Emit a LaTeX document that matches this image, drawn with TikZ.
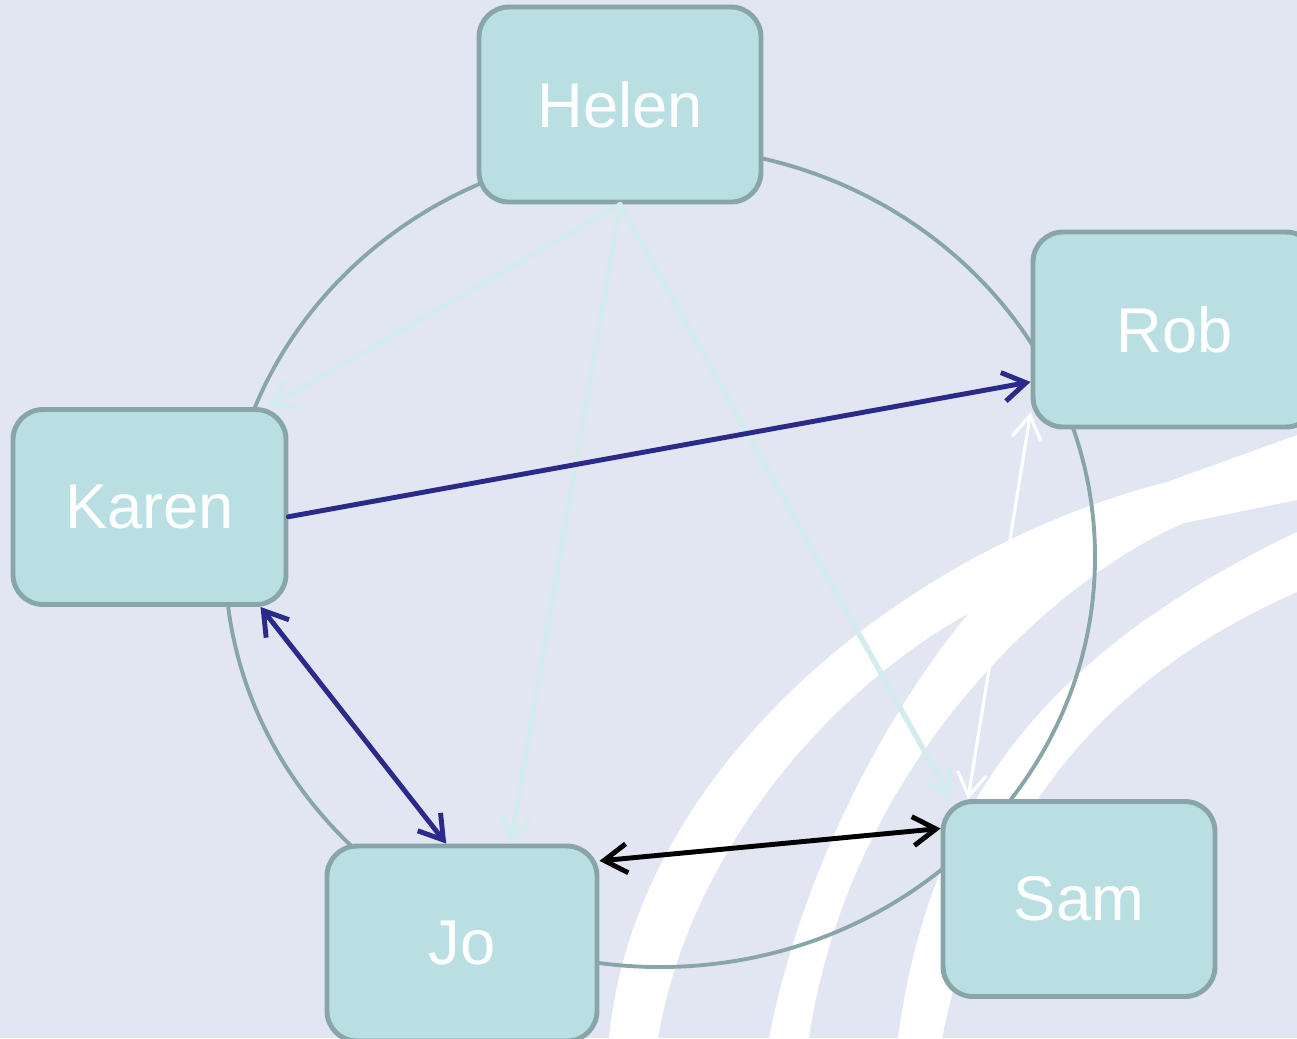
\documentclass[tikz,border=0pt]{standalone}
\usepackage{fontspec}
\setmainfont{Liberation Sans}
\usepackage{tikz}
\usetikzlibrary{arrows.meta,shapes.geometric}
\definecolor{cycbg}{HTML}{E1E6F2}
\definecolor{cycfill}{HTML}{B9DFE2}
\definecolor{cycedge}{HTML}{88A6A9}
\definecolor{cycnavy}{HTML}{2B2A8A}
\definecolor{cycpale}{HTML}{D3ECEE}
\tikzset{
  box/.style={draw=cycedge,fill=cycfill,rounded corners=3mm,line width=1.4pt,
              minimum height=1.95cm,inner sep=0pt,text=white,
              font=\fontsize{18}{22}\selectfont},
  ring/.style={draw=cycedge,line width=1.1pt},
  band/.style={fill=white},
  ar/.style={-{Straight Barb[length=2.3mm,width=2.9mm]},line cap=round,line join=round},
  dar/.style={{Straight Barb[length=2.3mm,width=2.9mm]}-{Straight Barb[length=2.3mm,width=2.9mm]},
              line cap=round,line join=round},
}
\begin{document}
\begin{tikzpicture}
  \useasboundingbox (0,0) rectangle (12.97,-10.38);
  \clip (0,0) rectangle (12.97,-10.38);
  \fill[cycbg] (0,0) rectangle (12.97,-10.38);
  % background swooshes
  \fill[band] (6.09,-10.38) .. controls (6.35,-7.70) and (9.00,-5.50) .. (11.67,-4.82)
    -- (12.97,-4.35) -- (12.97,-5.00) -- (11.84,-5.23)
    .. controls (10.60,-5.75) and (8.50,-7.60) .. (8.09,-10.38) -- (7.69,-10.38)
    .. controls (8.00,-8.80) and (8.80,-7.20) .. (9.69,-6.13)
    .. controls (8.30,-6.90) and (6.90,-8.50) .. (6.58,-10.38) -- cycle;
  \fill[band] (8.98,-10.38) .. controls (9.30,-8.00) and (10.50,-6.50) .. (12.97,-5.32)
    -- (12.97,-5.92) .. controls (11.20,-6.70) and (9.90,-8.00) .. (9.42,-10.38) -- cycle;
  \draw[ring] (6.60,-5.57) ellipse [x radius=4.35,y radius=4.10];
  \foreach \n/\x/\y/\w/\t in {helen/6.20/-1.045/2.82/Helen,rob/11.745/-3.295/2.83/Rob,
      karen/1.495/-5.07/2.73/Karen,jo/4.62/-9.435/2.70/Jo,sam/10.79/-8.99/2.72/Sam}
    {\node[box,minimum width=\w cm] (\n) at (\x,\y) {\t};}
  \draw[ar,cycpale,line width=1.3pt] (helen.south) -- (karen.40);
  \draw[ar,cycpale,line width=1.3pt] (helen.south) -- (jo.64);
  \draw[ar,cycpale,line width=1.5pt] (helen.south) -- (sam.142);
  \draw[ar,cycnavy,line width=1.4pt] (karen.-4) -- (rob.200);
  \draw[dar,cycnavy,line width=1.4pt] (karen.-42) -- (jo.99);
  \draw[dar,black,line width=1.4pt] (jo.31) -- (sam.153);
  \draw[dar,white,line width=0.9pt] (rob.210) -- (sam.138);
\end{tikzpicture}
\end{document}
